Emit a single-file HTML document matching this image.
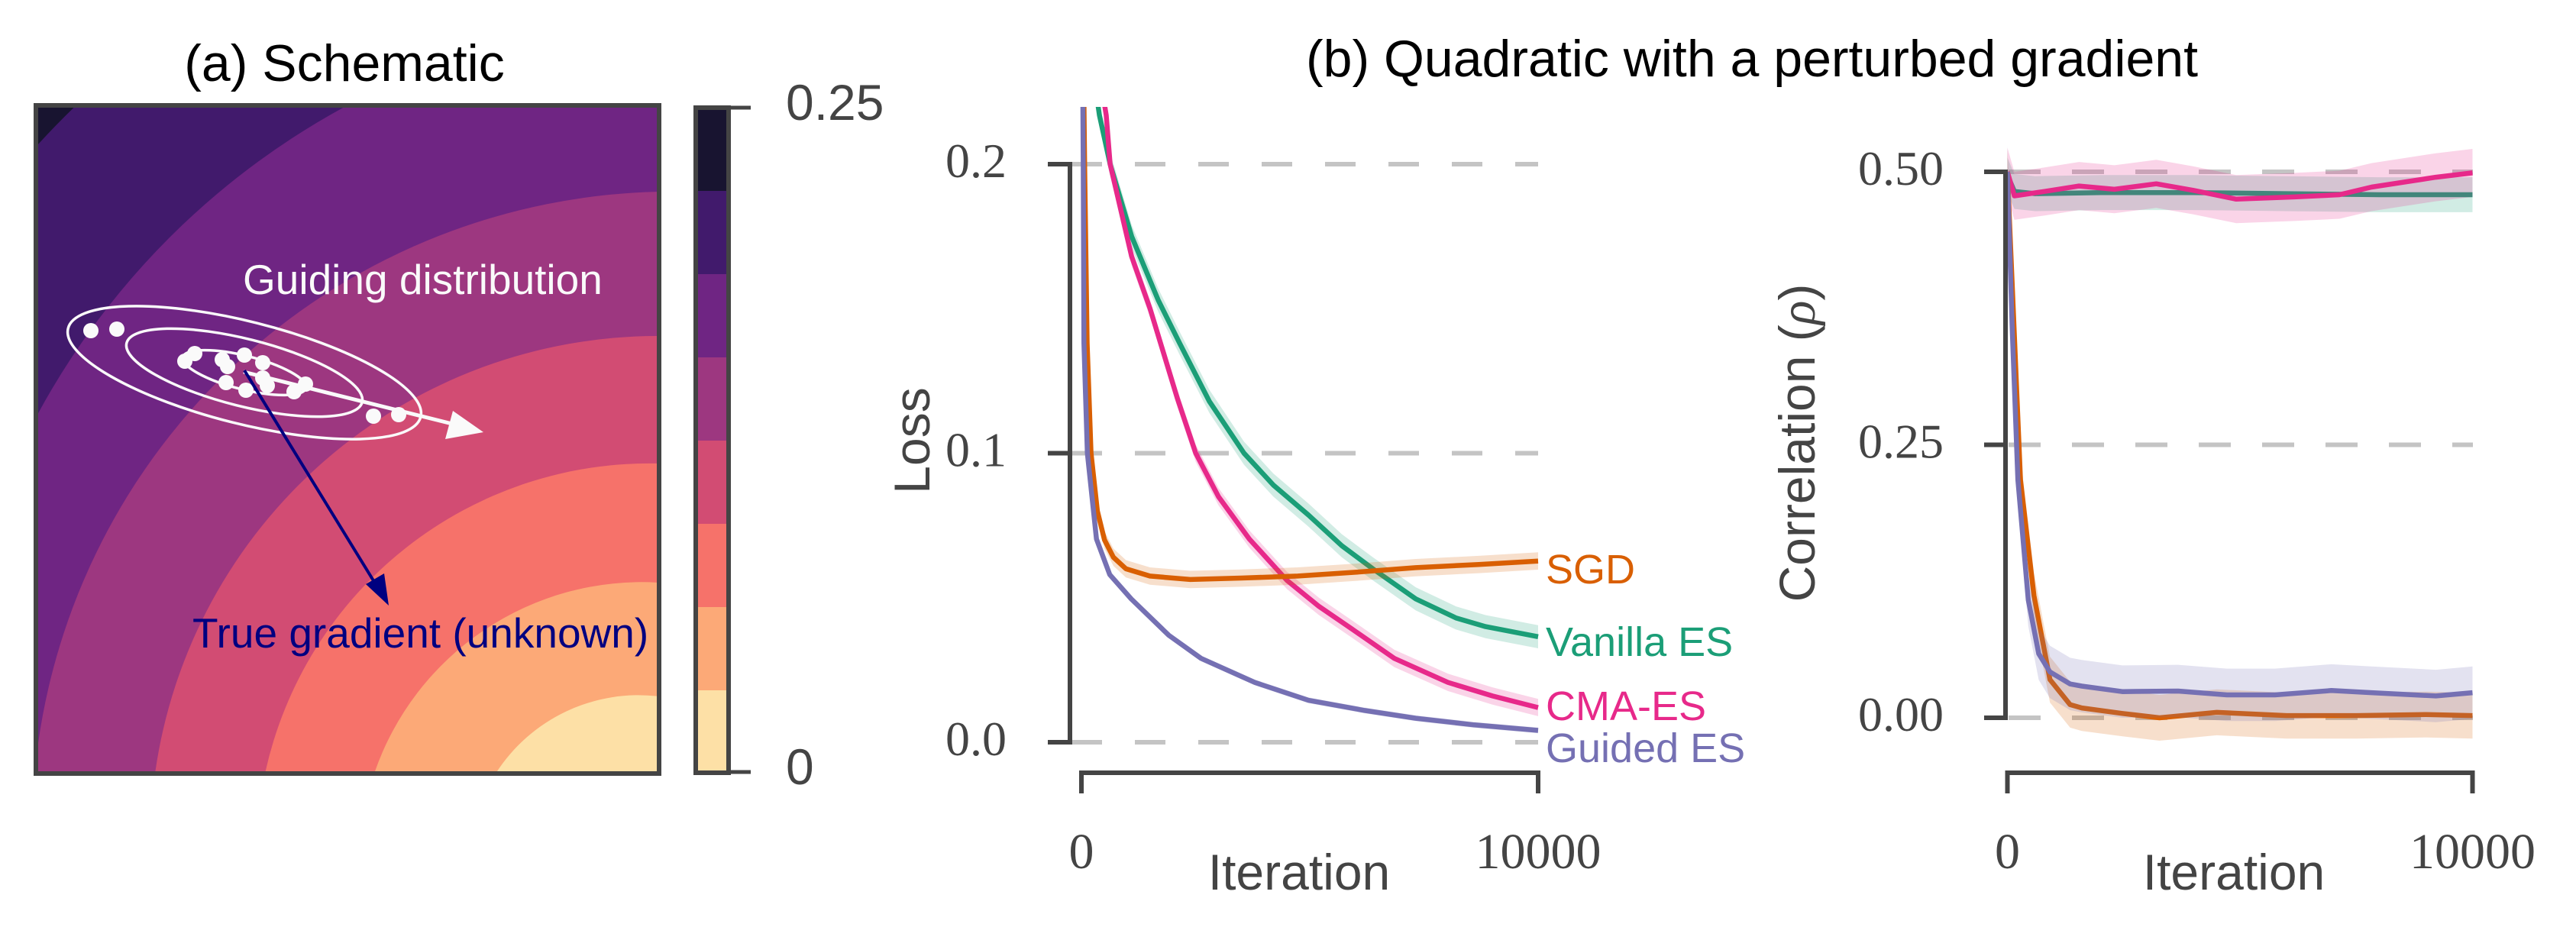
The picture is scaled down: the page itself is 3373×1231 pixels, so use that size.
<!DOCTYPE html>
<html><head><meta charset="utf-8"><style>
html,body{margin:0;padding:0;background:#fff;}
svg{display:block;}
.sans{font-family:"Liberation Sans",Arial,sans-serif;}
.serif{font-family:"Liberation Serif","DejaVu Serif",serif;}
</style></head><body>
<svg id="fig" width="3373" height="1231" viewBox="0 0 3373 1231" xmlns="http://www.w3.org/2000/svg">
<defs>
<clipPath id="clipA"><rect x="50" y="141" width="810" height="869"/></clipPath>
<clipPath id="clipM"><rect x="1380" y="140" width="700" height="900"/></clipPath>
</defs>

<!-- Panel (a) -->
<g>
<text class="sans" x="451" y="106" font-size="68" text-anchor="middle" fill="#000">(a) Schematic</text>
<g clip-path="url(#clipA)">
<rect x="47" y="138" width="816" height="875" fill="#181430"/>
<path d="M 40 200 A 1100 1100 0 0 1 108 130 L 870 130 L 870 1020 L 40 1020 Z" fill="#411a6c"/>
<path d="M 40 560 A 1000 1000 0 0 1 470 130 L 870 130 L 870 1020 L 40 1020 Z" fill="#6f2583"/>
<path d="M 50 973 A 840 840 0 0 1 863 251 L 870 251 L 870 1020 L 50 1020 Z" fill="#9d3780"/>
<path d="M 203 1013 A 665 665 0 0 1 863 440 L 870 440 L 870 1020 Z" fill="#d24c73"/>
<path d="M 347 1013 A 515 515 0 0 1 863 607 L 870 607 L 870 1020 Z" fill="#f6726a"/>
<path d="M 490 1013 A 370 370 0 0 1 863 763 L 870 763 L 870 1020 Z" fill="#fca977"/>
<path d="M 649 1013 A 222 222 0 0 1 863 912 L 870 912 L 870 1020 Z" fill="#fde0a6"/>
</g>
<rect x="47" y="138" width="816" height="875" fill="none" stroke="#444" stroke-width="6"/>
<g transform="rotate(14.1 320 488)" fill="none" stroke="#fafafa" stroke-width="3.5">
<ellipse cx="320" cy="488" rx="238" ry="67"/>
<ellipse cx="320" cy="488" rx="159" ry="44"/>
<ellipse cx="320" cy="488" rx="83" ry="22"/>
</g>
<g fill="#fafafa">
<circle cx="119" cy="433" r="10"/><circle cx="153" cy="431" r="10"/><circle cx="242" cy="473" r="10"/><circle cx="255" cy="463" r="10"/>
<circle cx="291" cy="471" r="10"/><circle cx="298" cy="480" r="10"/><circle cx="320" cy="465" r="10"/><circle cx="344" cy="475" r="10"/>
<circle cx="296" cy="501" r="10"/><circle cx="322" cy="511" r="10"/><circle cx="344" cy="495" r="10"/><circle cx="350" cy="505" r="10"/>
<circle cx="385" cy="513" r="10"/><circle cx="400" cy="503" r="10"/><circle cx="489" cy="545" r="10"/><circle cx="522" cy="543" r="10"/>
</g>
<g>
<line x1="319" y1="487" x2="592" y2="555" stroke="#fafafa" stroke-width="5"/>
<polygon points="633,566 583,575 593,538" fill="#fafafa"/>
</g>
<g>
<line x1="320" y1="485" x2="490" y2="762" stroke="#000080" stroke-width="4"/>
<polygon points="509,793 479,765 503,751" fill="#000080"/>
</g>
<text class="sans" x="318" y="385" font-size="55" fill="#fafafa">Guiding distribution</text>
<text class="sans" x="252" y="848" font-size="55" fill="#000080">True gradient (unknown)</text>
</g>

<!-- Colorbar -->
<g>
<rect x="911" y="141" width="43" height="110" fill="#181430"/>
<rect x="911" y="250" width="43" height="110" fill="#411a6c"/>
<rect x="911" y="359" width="43" height="110" fill="#6f2583"/>
<rect x="911" y="468" width="43" height="110" fill="#9d3780"/>
<rect x="911" y="577" width="43" height="110" fill="#d24c73"/>
<rect x="911" y="686" width="43" height="110" fill="#f6726a"/>
<rect x="911" y="795" width="43" height="110" fill="#fca977"/>
<rect x="911" y="904" width="43" height="108" fill="#fde0a6"/>
<rect x="911" y="141" width="43" height="871" fill="none" stroke="#444" stroke-width="6"/>
<line x1="954" y1="141" x2="983" y2="141" stroke="#444" stroke-width="5"/>
<line x1="954" y1="1011" x2="983" y2="1011" stroke="#444" stroke-width="5"/>
<text class="sans" x="1029" y="157" font-size="66" fill="#444">0.25</text>
<text class="sans" x="1029" y="1027" font-size="66" fill="#444">0</text>
</g>

<text class="sans" x="2294" y="100" font-size="68" text-anchor="middle" fill="#000">(b) Quadratic with a perturbed gradient</text>

<g id="mid"></g>
<g id="right"></g>
</svg>
<script>
// ---- Loss chart data ----
const lossIter_sgd = [0, 70, 125, 211, 350, 505, 700, 975, 1500, 2385, 3500, 4736, 6000, 7320, 8700, 10000];
const loss_sgd     = [0.30, 0.20, 0.138, 0.10, 0.08, 0.070, 0.064, 0.060, 0.0575, 0.0563, 0.0568, 0.0575, 0.0588, 0.0604, 0.0615, 0.0627];
const lossIter_vanilla = [0, 394, 628, 1100, 1680, 2152, 2800, 3560, 4200, 4971, 5700, 6381, 7321, 8200, 8849, 10000];
const loss_vanilla     = [0.26, 0.2169, 0.20, 0.175, 0.153, 0.138, 0.118, 0.10, 0.089, 0.0786, 0.068, 0.060, 0.0496, 0.043, 0.040, 0.0365];
const lossIter_cma = [0, 544, 628, 1100, 1504, 1734, 2100, 2503, 3000, 3678, 4500, 5200, 5911, 6851, 8026, 9000, 10000];
const loss_cma     = [0.27, 0.2169, 0.20, 0.168, 0.150, 0.138, 0.119, 0.10, 0.085, 0.0703, 0.056, 0.047, 0.0393, 0.029, 0.0207, 0.016, 0.012];
const lossIter_guided = [0, 40, 55, 130, 330, 620, 1090, 1915, 2620, 3796, 4971, 6200, 7321, 8600, 10000];
const loss_guided     = [0.30, 0.20, 0.138, 0.10, 0.0703, 0.058, 0.0496, 0.037, 0.029, 0.0207, 0.0145, 0.011, 0.0083, 0.006, 0.0041];
const lossBand_sgd = 0.003, lossBand_vanilla = 0.004, lossBand_cma = 0.003, lossBand_guided = 0.001;
const lossTicks = [0.0, 0.1, 0.2];
const lossTickLabels = ["0.0", "0.1", "0.2"];
const iterTicks = [0, 10000];
const iterTickLabels = ["0", "10000"];
const seriesNames = ["SGD", "Vanilla ES", "CMA-ES", "Guided ES"];

// ---- Correlation chart data ----
const corrIter_pink = [0, 150, 800, 1540, 2300, 3200, 4000, 4920, 6170, 7140, 7830, 9210, 10000];
const corr_pink     = [0.50, 0.478, 0.482, 0.487, 0.484, 0.489, 0.483, 0.475, 0.477, 0.479, 0.486, 0.495, 0.499];
const corrIter_green = [0, 150, 600, 2000, 4000, 6000, 8000, 10000];
const corr_green     = [0.497, 0.482, 0.480, 0.481, 0.481, 0.480, 0.479, 0.479];
const corrIter_purple = [0, 100, 225, 449, 674, 915, 1348, 1600, 2472, 3670, 4719, 5750, 6966, 7830, 9213, 10000];
const corr_purple     = [0.50, 0.36, 0.218, 0.108, 0.0587, 0.042, 0.031, 0.029, 0.024, 0.0245, 0.021, 0.021, 0.025, 0.023, 0.020, 0.023];
const corrIter_orange = [0, 130, 281, 570, 915, 1348, 1600, 2472, 3270, 4500, 6000, 7500, 9000, 10000];
const corr_orange     = [0.50, 0.37, 0.218, 0.112, 0.035, 0.012, 0.009, 0.004, 0.0, 0.005, 0.002, 0.002, 0.003, 0.002];
const corrBand_pink = 0.022, corrBand_green = 0.016, corrBand_purple = 0.024, corrBand_orange = 0.021;
const corrTicks = [0.0, 0.25, 0.5];
const corrTickLabels = ["0.00", "0.25", "0.50"];

const NS = "http://www.w3.org/2000/svg";
function mk(parent, tag, attrs) {
  const e = document.createElementNS(NS, tag);
  for (const k in attrs) e.setAttribute(k, attrs[k]);
  parent.appendChild(e);
  return e;
}
const COL = {sgd:"#d95f02", vanilla:"#1b9e77", cma:"#e7298a", guided:"#7570b3"};

// ---------- Middle chart ----------
const mid = document.getElementById('mid');
const xM = v => 1416 + v / 10000 * 598;
const yM = v => 972 - v / 0.1 * 378.5;

lossTicks.forEach((t, i) => {
  const gl = mk(mid, 'line', {x1: 1403, x2: 2014, y1: yM(t), y2: yM(t), stroke: '#c4c4c4', 'stroke-width': 6, 'stroke-dasharray': '40 43'});
  
  
});

const midPlot = mk(mid, 'g', {'clip-path': 'url(#clipM)'});



function series(g, xs, ys, band, color, xf, yf, nm) {
  let up = xs.map((x, i) => xf(x).toFixed(1) + ',' + yf(ys[i] + band).toFixed(1));
  let lo = xs.map((x, i) => xf(x).toFixed(1) + ',' + yf(ys[i] - band).toFixed(1)).reverse();
  const b = mk(g, 'polygon', {points: up.concat(lo).join(' '), fill: color, 'fill-opacity': 0.2, stroke: 'none'});
  
  
  const l = mk(g, 'polyline', {points: xs.map((x, i) => xf(x).toFixed(1) + ',' + yf(ys[i]).toFixed(1)).join(' '), fill: 'none', stroke: color, 'stroke-width': 6.5, 'stroke-linejoin': 'round'});
  
  
}
series(midPlot, lossIter_vanilla, loss_vanilla, lossBand_vanilla, COL.vanilla, xM, yM, 'vanilla-es-loss');
series(midPlot, lossIter_cma, loss_cma, lossBand_cma, COL.cma, xM, yM, 'cma-es-loss');
series(midPlot, lossIter_sgd, loss_sgd, lossBand_sgd, COL.sgd, xM, yM, 'sgd-loss');
series(midPlot, lossIter_guided, loss_guided, lossBand_guided, COL.guided, xM, yM, 'guided-es-loss');

let ys = mk(mid, 'line', {x1: 1401, x2: 1401, y1: yM(0.2), y2: yM(0), stroke: '#444', 'stroke-width': 6});


lossTicks.forEach((t, i) => {
  mk(mid, 'line', {x1: 1372, x2: 1404, y1: yM(t), y2: yM(t), stroke: '#444', 'stroke-width': 6});
  const tl = mk(mid, 'text', {x: 1318, y: yM(t) + 17, 'font-size': 64, 'text-anchor': 'end', fill: '#444', class: 'serif'});
  tl.textContent = lossTickLabels[i];
  
  
});
let xs_ = mk(mid, 'polyline', {points: `${xM(0)},1039 ${xM(0)},1012 ${xM(10000)},1012 ${xM(10000)},1039`, fill: 'none', stroke: '#444', 'stroke-width': 6});


iterTicks.forEach((t, i) => {
  const tl = mk(mid, 'text', {x: xM(t), y: 1137, 'font-size': 66, 'text-anchor': 'middle', fill: '#444', class: 'serif'});
  tl.textContent = iterTickLabels[i];
  
  
});
let xl = mk(mid, 'text', {x: 1701, y: 1165, 'font-size': 66, 'text-anchor': 'middle', fill: '#444', class: 'sans'});
xl.textContent = 'Iteration';


let yl = mk(mid, 'text', {x: 0, y: 0, 'font-size': 66, 'text-anchor': 'middle', fill: '#444', class: 'sans', transform: 'translate(1217,577) rotate(-90)'});
yl.textContent = 'Loss';



const lblY = [764, 859, 943, 998];
const lblC = [COL.sgd, COL.vanilla, COL.cma, COL.guided];
seriesNames.forEach((n, i) => {
  const t = mk(mid, 'text', {x: 2024, y: lblY[i], 'font-size': 54, fill: lblC[i], class: 'sans'});
  t.textContent = n;
  
  
});

// ---------- Right chart ----------
const right = document.getElementById('right');
const xR = v => 2628.5 + v / 10000 * 609;
const yR = v => 940 - v / 0.25 * 357.5;
corrTicks.forEach(t => {
  const gl = mk(right, 'line', {x1: 2630, x2: 3238, y1: yR(t), y2: yR(t), stroke: '#c4c4c4', 'stroke-width': 6, 'stroke-dasharray': '42 41'});
  
  
});
const rp = mk(right, 'g', {});


series(rp, corrIter_green, corr_green, corrBand_green, COL.vanilla, xR, yR, 'vanilla-es-corr');
series(rp, corrIter_pink, corr_pink, corrBand_pink, COL.cma, xR, yR, 'cma-es-corr');
series(rp, corrIter_orange, corr_orange, corrBand_orange, COL.sgd, xR, yR, 'sgd-corr');
series(rp, corrIter_purple, corr_purple, corrBand_purple, COL.guided, xR, yR, 'guided-es-corr');

let rys = mk(right, 'line', {x1: 2626, x2: 2626, y1: yR(0.5), y2: yR(0), stroke: '#444', 'stroke-width': 6});


corrTicks.forEach((t, i) => {
  mk(right, 'line', {x1: 2598, x2: 2629, y1: yR(t), y2: yR(t), stroke: '#444', 'stroke-width': 6});
  const tl = mk(right, 'text', {x: 2545, y: yR(t) + 17, 'font-size': 64, 'text-anchor': 'end', fill: '#444', class: 'serif'});
  tl.textContent = corrTickLabels[i];
  
  
});
let rxs = mk(right, 'polyline', {points: `${xR(0)},1039 ${xR(0)},1012 ${xR(10000)},1012 ${xR(10000)},1039`, fill: 'none', stroke: '#444', 'stroke-width': 6});


iterTicks.forEach((t, i) => {
  const tl = mk(right, 'text', {x: xR(t), y: 1137, 'font-size': 66, 'text-anchor': 'middle', fill: '#444', class: 'serif'});
  tl.textContent = iterTickLabels[i];
  
  
});
let rxl = mk(right, 'text', {x: 2925, y: 1165, 'font-size': 66, 'text-anchor': 'middle', fill: '#444', class: 'sans'});
rxl.textContent = 'Iteration';


let ryl = mk(right, 'text', {x: 0, y: 0, 'font-size': 66, 'text-anchor': 'middle', fill: '#444', class: 'sans', transform: 'translate(2376,580) rotate(-90)'});
ryl.innerHTML = 'Correlation (<tspan font-family="Liberation Serif, serif" font-style="italic">ρ</tspan>)';


</script>
</body></html>
